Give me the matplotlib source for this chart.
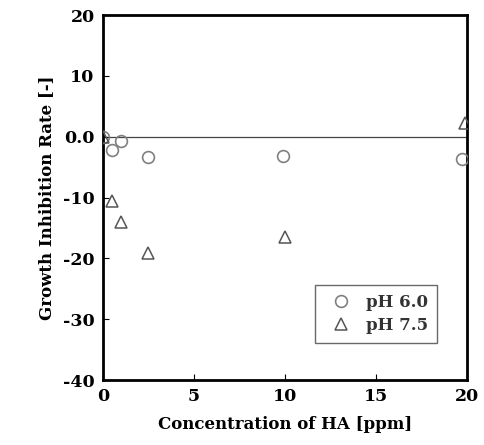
import matplotlib
matplotlib.use("Agg")
import matplotlib.pyplot as plt

# pH 6.0 series (circles)
conc_ph60 = [0, 0.5, 1.0, 2.5, 9.9, 19.7]
rate_ph60 = [0.0, -2.2, -0.7, -3.4, -3.2, -3.6]

# pH 7.5 series (triangles)
conc_ph75 = [0, 0.5, 1.0, 2.5, 10.0, 19.9]
rate_ph75 = [0.0, -10.6, -14.0, -19.1, -16.5, 2.2]

x_ticks = [0, 5, 10, 15, 20]
y_ticks = [20, 10, 0, -10, -20, -30, -40]
y_labels = ["20", "10", "0.0", "-10", "-20", "-30", "-40"]

plt.rcParams['font.family'] = ['DejaVu Serif']
plt.rcParams['font.weight'] = 'bold'

fig = plt.figure(figsize=(4.84, 4.45), dpi=100)
ax = fig.add_axes([0.2128, 0.146, 0.752, 0.82])

ax.axhline(0, color='#444444', lw=0.9, zorder=1)

ax.plot(conc_ph60, rate_ph60, 'o', mfc='none', mec='#808080', mew=1.2,
        ms=8.5, label='pH 6.0', zorder=3)
ax.plot(conc_ph75, rate_ph75, '^', mfc='none', mec='#555555', mew=1.1,
        ms=8.5, label='pH 7.5', zorder=3)

ax.set_xlim(0, 20)
ax.set_ylim(-40, 20)
ax.set_xticks(x_ticks)
ax.set_yticks(y_ticks)
ax.set_yticklabels(y_labels)
ax.tick_params(direction='in', length=4, width=0.8, labelsize=12.5,
               top=False, right=False, pad=6)
for lab in ax.get_xticklabels() + ax.get_yticklabels():
    lab.set_fontweight('bold')

for s in ax.spines.values():
    s.set_linewidth(2)
    s.set_color('black')

ax.set_xlabel('Concentration of HA [ppm]', fontsize=12, fontweight='bold', labelpad=8)
ax.set_ylabel('Growth Inhibition Rate [-]', fontsize=12, fontweight='bold', labelpad=6)

leg = ax.legend(loc='lower right', bbox_to_anchor=(0.918, 0.101), fontsize=12,
                frameon=True, fancybox=False, edgecolor='#444444',
                handletextpad=0.5, borderpad=0.55, labelspacing=0.35,
                borderaxespad=0)
leg.get_frame().set_linewidth(1.0)
for t in leg.get_texts():
    t.set_color('#333333')

fig.savefig('out.png', dpi=100)
